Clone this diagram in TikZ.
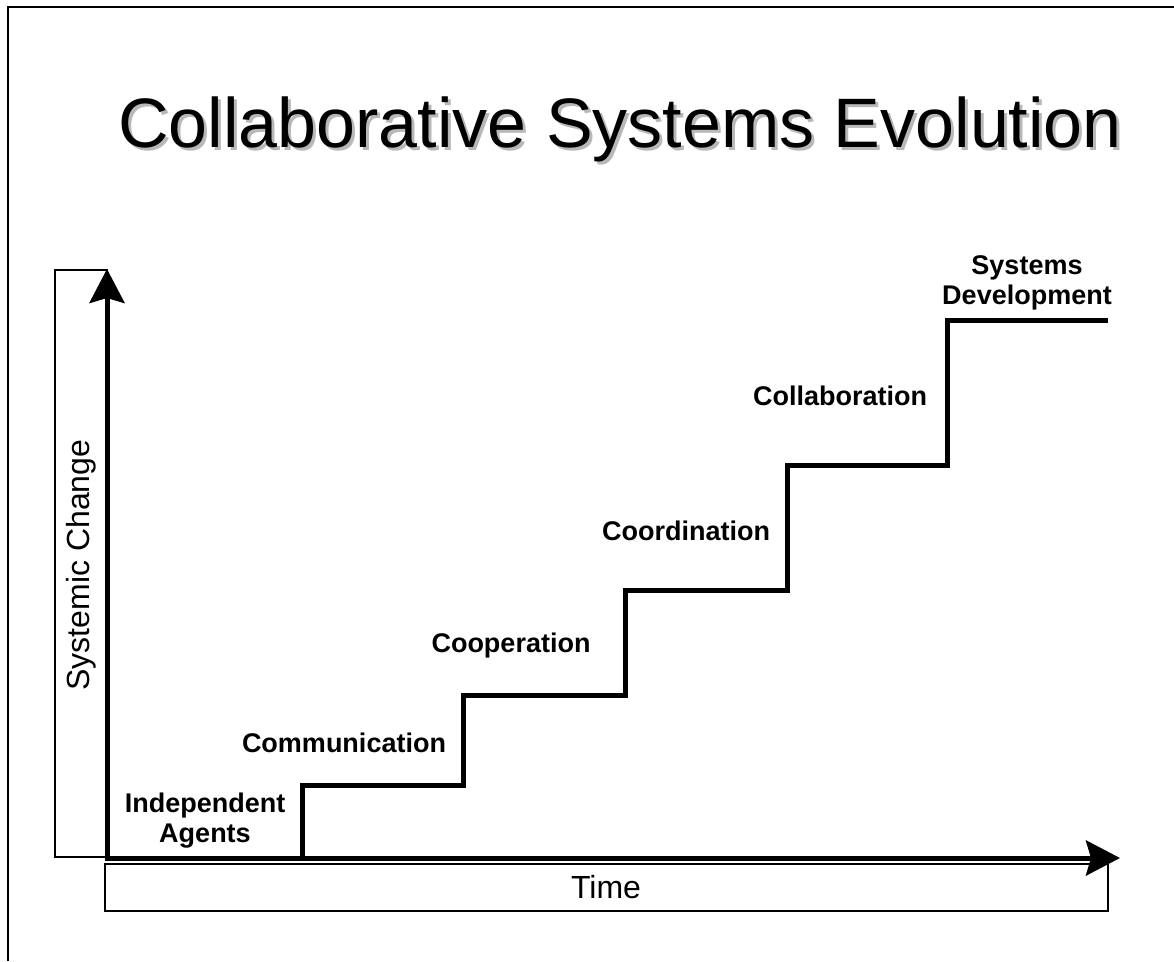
\documentclass[tikz,border=0pt]{standalone}
\usepackage{fontspec}
\setmainfont{Liberation Sans}
\usetikzlibrary{arrows.meta}

\tikzset{
  axis/.style={line width=5pt, line cap=rect, -{Stealth[length=34pt,width=35pt,inset=5pt]}},
  stair/.style={line width=5pt, line join=miter},
  thinbox/.style={line width=1.2pt},
  stagelabel/.style={font=\fontsize{27}{30}\selectfont\bfseries, align=center, inner sep=0pt},
  axislabel/.style={font=\fontsize{32}{36}\selectfont, inner sep=0pt},
  titletext/.style={font=\fontsize{70}{84}\selectfont, anchor=base west, inner sep=0pt},
}

\begin{document}
\begin{tikzpicture}[x=1pt,y=-1pt]
      \useasboundingbox (0,0) rectangle (1174,961);
      % slide frame
      \draw[line width=2pt] (8,961) -- (8,7) -- (1174,7);
      % title with shadow
      \node[titletext, text=black!28] (titleshadow) at (121,150) {Collaborative Systems Evolution};
      \node[titletext] (title) at (118,147) {Collaborative Systems Evolution};
      % boxes round the axis labels
      \draw[thinbox] (55,270) rectangle (107,857);
      \draw[thinbox] (105,864) rectangle (1108,911);
      \node[axislabel, rotate=90] (ylabel) at (81,565) {Systemic Change};
      \node[axislabel] (xlabel) at (606,887) {Time};
      % axes
      \coordinate (origin) at (107,858);
      \coordinate (ytip) at (107,269);
      \coordinate (xtip) at (1120,858);
      \draw[axis] (origin) -- (ytip);
      \draw[axis] (origin) -- (xtip);
      % the staircase
      \draw[stair] (origin) -- (302,858) -- (302,785) -- (463,785) -- (463,695)
        -- (625,695) -- (625,590) -- (787,590) -- (787,465) -- (947,465)
        -- (947,320) -- (1108,320);
      % stage labels
      \node[stagelabel] (agents) at (205,821) {Independent\\Agents};
      \node[stagelabel, anchor=base] (communication) at (344,752) {Communication};
      \node[stagelabel, anchor=base] (cooperation) at (511,652) {Cooperation};
      \node[stagelabel, anchor=base] (coordination) at (686,540) {Coordination};
      \node[stagelabel, anchor=base] (collaboration) at (840,405) {Collaboration};
      \node[stagelabel] (development) at (1027,283) {Systems\\Development};
\end{tikzpicture}
\end{document}
